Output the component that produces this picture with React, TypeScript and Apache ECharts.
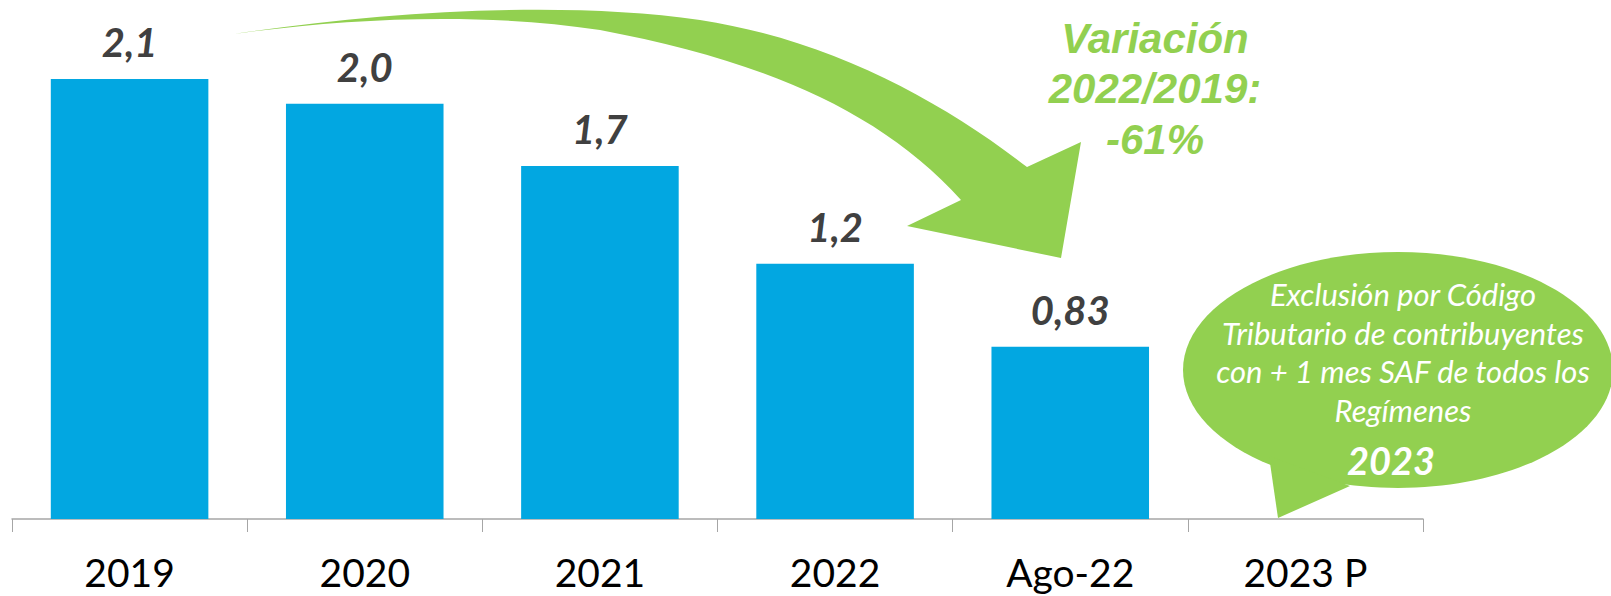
import React, { useEffect, useRef } from "react";
import * as echarts from "echarts";

const categories = ["2019", "2020", "2021", "2022", "Ago-22", "2023 P"];
const values = [2.12, 2.0, 1.7, 1.23, 0.83, null];
const valueLabels = ["2,1", "2,0", "1,7", "1,2", "0,83", ""];
const variationLines = ["Variación", "2022/2019:", "-61%"];
const bubbleLines = [
  "Exclusión por Código",
  "Tributario de contribuyentes",
  "con + 1 mes SAF de todos los",
  "Regímenes",
];
const bubbleYear = "2023";

const GREEN = "#92D050";
const BLUE = "#02A7E1";

const arrowD =
  "M234 34 C 380 12, 560 0, 700 20 C 830 40, 940 100, 1027 167 " +
  "L1081 142 L1061 258 L907 226 L961 200 " +
  "C 880 110, 760 60, 600 30 C 480 12, 350 18, 234 34 Z";

let registered = false;
function registerShapes() {
  if (registered) return;
  echarts.graphic.registerShape("curvedArrow", echarts.graphic.extendPath(arrowD, {}));
  registered = true;
}

export default function App() {
  const ref = useRef<HTMLDivElement>(null);
  useEffect(() => {
    if (!ref.current) return;
    registerShapes();
    const chart = echarts.init(ref.current, null, { renderer: "svg" });
    const varY = [38, 88, 139];
    const bubY = [294, 333, 371, 410];
    chart.setOption({
      animation: false,
      backgroundColor: "#ffffff",
      grid: { left: 12, right: 188, top: 0, bottom: 77, containLabel: false },
      xAxis: {
        type: "category",
        data: categories,
        axisLine: { lineStyle: { color: "#a6a6a6", width: 1.5 } },
        axisTick: { show: true, length: 13, lineStyle: { color: "#a6a6a6" } },
        axisLabel: {
          margin: 33,
          fontFamily: "Lato",
          fontSize: 39,
          color: "#000000",
          interval: 0,
        },
      },
      yAxis: {
        type: "value",
        min: 0,
        max: 2.5,
        show: false,
        splitLine: { show: false },
      },
      series: [
        {
          type: "bar",
          data: values,
          barCategoryGap: "33%",
          itemStyle: { color: BLUE },
          label: {
            show: true,
            position: "top",
            distance: 17,
            formatter: (p: any) => valueLabels[p.dataIndex],
            fontFamily: "Lato",
            fontSize: 40,
            fontWeight: "bold",
            fontStyle: "italic",
            color: "#404040",
          },
        },
      ],
      graphic: [
        {
          type: "curvedArrow",
          x: 0,
          y: 0,
          z: 10,
          style: { fill: GREEN },
        },
        ...variationLines.map((t, i) => ({
          type: "text",
          x: 1155,
          y: varY[i],
          z: 10,
          style: {
            text: t,
            fill: GREEN,
            font: "italic bold 42px 'Liberation Sans', Arial, sans-serif",
            textAlign: "center",
            textVerticalAlign: "middle",
          },
        })),
        {
          type: "ellipse",
          z: 10,
          shape: { cx: 1398, cy: 370, rx: 215, ry: 118 },
          style: { fill: GREEN },
        },
        {
          type: "polygon",
          z: 10,
          shape: {
            points: [
              [1269, 456],
              [1350, 486],
              [1278, 518],
            ],
          },
          style: { fill: GREEN },
        },
        ...bubbleLines.map((t, i) => ({
          type: "text",
          x: 1403,
          y: bubY[i],
          z: 11,
          style: {
            text: t,
            fill: "#ffffff",
            font: "italic 31px Lato, sans-serif",
            textAlign: "center",
            textVerticalAlign: "middle",
          },
        })),
        {
          type: "text",
          x: 1391,
          y: 460,
          z: 11,
          style: {
            text: bubbleYear,
            fill: "#ffffff",
            font: "italic bold 38px Lato, sans-serif",
            textAlign: "center",
            textVerticalAlign: "middle",
          },
        },
      ],
    });
    return () => chart.dispose();
  }, []);
  return (
    <div
      ref={ref}
      style={{ position: "absolute", left: 0, top: 0, width: 1611, height: 596 }}
    />
  );
}
